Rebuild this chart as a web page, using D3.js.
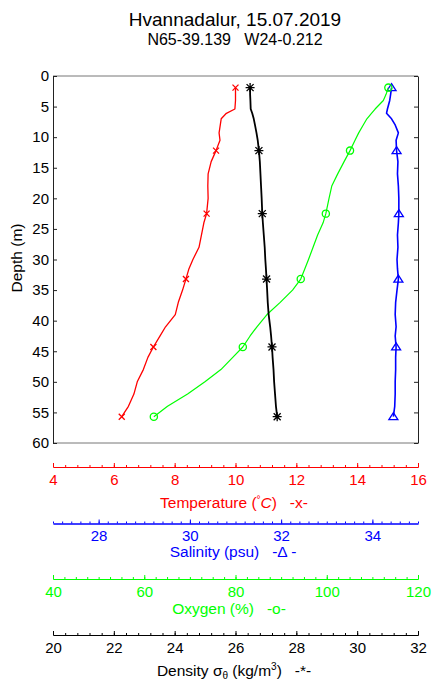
<!DOCTYPE html>
<html>
<head>
<meta charset="utf-8">
<script src="https://cdn.jsdelivr.net/npm/d3@7"></script>
<style>
  body { margin: 0; background: #fff; }
  text { font-family: "Liberation Sans", Arial, sans-serif; }
</style>
</head>
<body>
<div id="chart"></div>
<script>

// profile data, depth in m
var depth       = [1.9, 3, 4, 5.4, 6.1, 7, 8, 9.3, 10.5, 12.2, 14, 16, 18, 20, 22.5, 24, 26, 28, 30, 31.5, 33.2, 35, 37, 39, 41, 42.5, 44.3, 46, 48, 50, 52, 54, 55.7];
var temperature = [10.0, 10.0, 10.0, 9.98, 9.7, 9.53, 9.5, 9.46, 9.49, 9.36, 9.2, 9.1, 9.09, 9.1, 9.05, 8.96, 8.88, 8.8, 8.6, 8.47, 8.37, 8.26, 8.12, 8.02, 7.7, 7.52, 7.3, 7.12, 6.97, 6.77, 6.66, 6.48, 6.26];
var salinity    = [34.42, 34.4, 34.38, 34.33, 34.31, 34.42, 34.5, 34.57, 34.52, 34.53, 34.56, 34.55, 34.57, 34.58, 34.58, 34.57, 34.55, 34.56, 34.54, 34.55, 34.57, 34.54, 34.51, 34.5, 34.52, 34.5, 34.52, 34.51, 34.51, 34.5, 34.5, 34.49, 34.46];
var oxygen      = [113.5, 113.0, 112.4, 110.6, 109.8, 108.8, 108.0, 107.0, 106.2, 105.1, 103.8, 102.4, 101.1, 100.5, 99.8, 99.2, 98.0, 97.0, 96.0, 95.2, 94.3, 92.5, 89.8, 86.9, 84.7, 83.2, 81.6, 79.4, 76.8, 73.3, 69.5, 65.1, 62.1];
var density     = [26.48, 26.48, 26.49, 26.5, 26.55, 26.6, 26.64, 26.69, 26.73, 26.77, 26.8, 26.82, 26.84, 26.86, 26.88, 26.9, 26.93, 26.96, 26.98, 27.0, 27.02, 27.04, 27.06, 27.09, 27.14, 27.17, 27.2, 27.22, 27.25, 27.27, 27.3, 27.33, 27.37];
var markerDepths = [1.9, 12.2, 22.5, 33.2, 44.3, 55.7];

// tick labels
var depthTicks = d3.range(0, 61, 5);
var tempTicks = [4, 6, 8, 10, 12, 14, 16];
var salTicks = [28, 30, 32, 34];
var oxyTicks = [40, 60, 80, 100, 120];
var densTicks = [20, 22, 24, 26, 28, 30, 32];

var settings = {
  width: 433,
  height: 682,
  left: 53,
  right: 418,
  top: 76,
  bottom: 443,
  font: 15,
  titleFont: 15.5
};

function translate(x, y) {
  return 'translate(' + x + ',' + y + ')';
}

var svg = d3.select('#chart').append('svg')
  .attr('width', settings.width)
  .attr('height', settings.height);

var y = d3.scaleLinear().domain([0, 60]).range([settings.top, settings.bottom]);

// one x scale per variable, all sharing the plot width
var axes = [
  { key: 'temp', values: temperature, domain: [4, 16], ticks: tempTicks, minor: 0.4, color: '#ff0000',
    pos: 467, titleY: 507.5, titleX: 234, marker: 'x', lw: 1.3 },
  { key: 'sal', values: salinity, domain: [27, 35], ticks: salTicks, minor: 0.2, color: '#0000ff',
    pos: 523.5, titleY: 557, titleX: 233, marker: 'tri', lw: 1.6 },
  { key: 'oxy', values: oxygen, domain: [40, 120], ticks: oxyTicks, minor: 2.5, color: '#00ff00',
    pos: 579, titleY: 614, titleX: 229, marker: 'o', lw: 1.2 },
  { key: 'dens', values: density, domain: [20, 32], ticks: densTicks, minor: 0.4, color: '#000000',
    pos: 635, titleY: 675.5, titleX: 234, marker: 'star', lw: 1.8 }
];

axes.forEach(function(a) {
  a.scale = d3.scaleLinear().domain(a.domain).range([settings.left, settings.right]);
});

// titles
svg.append('text')
  .attr('x', 235).attr('y', 26)
  .attr('text-anchor', 'middle')
  .style('font-size', '19px')
  .text('Hvannadalur, 15.07.2019');

svg.append('text')
  .attr('x', 235).attr('y', 44.5)
  .attr('text-anchor', 'middle')
  .style('font-size', '16px')
  .style('white-space', 'pre')
  .text('N65-39.139   W24-0.212');

// plot frame
var g = svg.append('g');

g.append('line')
  .attr('x1', settings.left).attr('x2', settings.right)
  .attr('y1', settings.top).attr('y2', settings.top)
  .attr('stroke', '#777');
g.append('line')
  .attr('x1', settings.left).attr('x2', settings.right)
  .attr('y1', settings.bottom).attr('y2', settings.bottom)
  .attr('stroke', '#777');

var yLeft = g.append('g')
  .attr('transform', translate(settings.left, 0))
  .call(d3.axisLeft(y).tickValues(depthTicks).tickSize(-4).tickSizeOuter(0).tickPadding(4));

var yRight = g.append('g')
  .attr('transform', translate(settings.right, 0))
  .call(d3.axisRight(y).tickValues(depthTicks).tickSize(-4).tickSizeOuter(0).tickFormat(''));

[yLeft, yRight].forEach(function(ax) {
  ax.select('.domain').attr('stroke', '#222');
  ax.selectAll('.tick line').attr('stroke', '#222');
  ax.selectAll('text')
    .attr('fill', '#000')
    .style('font-family', '"Liberation Sans", Arial, sans-serif')
    .style('font-size', settings.font + 'px');
});

svg.append('text')
  .attr('transform', translate(22, 258) + ' rotate(-90)')
  .attr('text-anchor', 'middle')
  .style('font-size', settings.titleFont + 'px')
  .text('Depth (m)');

// marker shapes
function markerPath(type) {
  if (type === 'x') return 'M-3,-3L3,3M-3,3L3,-3';
  if (type === 'star') return 'M-3.5,-3.5L3.5,3.5M-3.5,3.5L3.5,-3.5M0,-4.5L0,4.5M-4.5,0L4.5,0';
  if (type === 'tri') return 'M0,-4L4.5,3L-4.5,3Z';
  return null;
}

var plots = svg.append('g');

axes.forEach(function(a) {
  var pts = depth.map(function(d, i) { return [a.values[i], d]; });

  var line = d3.line()
    .x(function(p) { return a.scale(p[0]); })
    .y(function(p) { return y(p[1]); });

  plots.append('path')
    .attr('d', line(pts))
    .attr('fill', 'none')
    .attr('stroke', a.color)
    .attr('stroke-width', a.lw)
    .attr('stroke-linejoin', 'round');

  var marks = pts.filter(function(p) { return markerDepths.indexOf(p[1]) >= 0; });

  if (a.marker === 'o') {
    plots.selectAll('.m-' + a.key)
      .data(marks)
      .enter().append('circle')
      .attr('class', 'm-' + a.key)
      .attr('cx', function(p) { return a.scale(p[0]); })
      .attr('cy', function(p) { return y(p[1]); })
      .attr('r', 3.6)
      .attr('fill', 'none')
      .attr('stroke', a.color)
      .attr('stroke-width', 1.3);
  } else {
    plots.selectAll('.m-' + a.key)
      .data(marks)
      .enter().append('path')
      .attr('class', 'm-' + a.key)
      .attr('transform', function(p) { return translate(a.scale(p[0]), y(p[1])); })
      .attr('d', markerPath(a.marker))
      .attr('fill', 'none')
      .attr('stroke', a.color)
      .attr('stroke-width', 1.3);
  }
});

// the four x axes below the plot
axes.forEach(function(a) {
  var minor = d3.range(a.domain[0], a.domain[1] + a.minor / 2, a.minor);

  var ax = svg.append('g').attr('transform', translate(0, a.pos));

  ax.append('g')
    .call(d3.axisBottom(a.scale).tickValues(minor).tickSize(-2).tickSizeOuter(0).tickFormat(''));

  ax.append('g')
    .call(d3.axisBottom(a.scale).tickValues(a.ticks).tickSize(-4).tickSizeOuter(0).tickPadding(7));

  ax.selectAll('.domain, .tick line').attr('stroke', a.color);
  ax.selectAll('text')
    .attr('fill', a.color)
    .style('font-family', '"Liberation Sans", Arial, sans-serif')
    .style('font-size', settings.font + 'px');
});

function axisTitle(a) {
  return svg.append('text')
    .attr('x', a.titleX).attr('y', a.titleY)
    .attr('text-anchor', 'middle')
    .attr('fill', a.color)
    .style('font-size', settings.titleFont + 'px')
    .style('white-space', 'pre');
}

var tT = axisTitle(axes[0]);
tT.append('tspan').text('Temperature (');
tT.append('tspan').attr('dy', -5).style('font-size', '10px').text('\u00b0');
tT.append('tspan').attr('dy', 5).style('font-style', 'italic').text('C');
tT.append('tspan').text(')   -x-');

axisTitle(axes[1]).text('Salinity (psu)   -\u0394 -');

axisTitle(axes[2]).text('Oxygen (%)   -o-');

var tD = axisTitle(axes[3]);
tD.append('tspan').text('Density \u03c3');
tD.append('tspan').attr('dy', 3).style('font-size', '10px').text('\u03b8');
tD.append('tspan').attr('dy', -3).text(' (kg/m');
tD.append('tspan').attr('dy', -6).style('font-size', '10px').text('3');
tD.append('tspan').attr('dy', 6).text(')   -*-');

</script>
</body>
</html>
